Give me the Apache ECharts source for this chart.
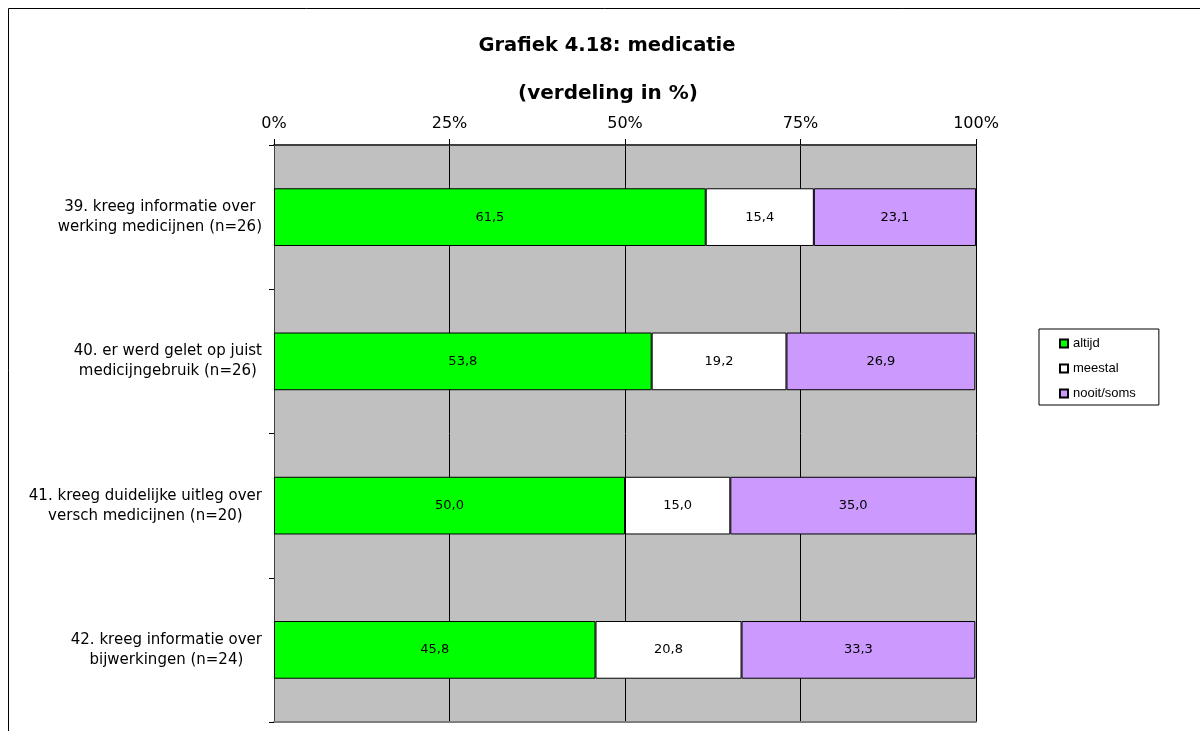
<!DOCTYPE html>
<html>
<head>
<meta charset="utf-8">
<script src="https://cdn.jsdelivr.net/npm/echarts@6/dist/echarts.min.js"></script>
<style>
  html, body { margin: 0; padding: 0; background: #fff; }
  #chart { width: 1200px; height: 731px; }
</style>
</head>
<body>
<div id="chart"></div>
<script>
// Survey items (rows, top to bottom)
const categories = [
  '39. kreeg informatie over\nwerking medicijnen (n=26)',
  '40. er werd gelet op juist\nmedicijngebruik (n=26)',
  '41. kreeg duidelijke uitleg over\nversch medicijnen (n=20)',
  '42. kreeg informatie over\nbijwerkingen (n=24)'
];

// Answer distribution per item, in percent
const altijd = [61.5, 53.8, 50.0, 45.8];
const meestal = [15.4, 19.2, 15.0, 20.8];
const nooitSoms = [23.1, 26.9, 35.0, 33.3];

const seriesNames = ['altijd', 'meestal', 'nooit/soms'];
const seriesColors = ['#00ff00', '#ffffff', '#cc99ff'];
const seriesData = [altijd, meestal, nooitSoms];

const fontMain = 'Verdana, "DejaVu Sans", sans-serif';

const chart = echarts.init(document.getElementById('chart'));

const series = seriesData.map((data, i) => ({
  name: seriesNames[i],
  type: 'bar',
  stack: 'total',
  barWidth: '40%',
  data: data,
  itemStyle: { color: seriesColors[i], borderColor: '#000', borderWidth: 1 },
  label: {
    show: true,
    position: 'inside',
    color: '#000',
    fontFamily: fontMain,
    fontSize: 13,
    formatter: p => p.value.toFixed(1).replace('.', ',')
  }
}));

chart.setOption({
  animation: false,
  backgroundColor: '#fff',
  title: [
    {
      text: 'Grafiek 4.18: medicatie',
      left: 602, top: 31, textAlign: 'center',
      textStyle: { fontFamily: fontMain, fontSize: 19.5, fontWeight: 'bold', color: '#000' }
    },
    {
      text: '(verdeling in %)',
      left: 603, top: 79, textAlign: 'center',
      textStyle: { fontFamily: fontMain, fontSize: 20, fontWeight: 'bold', color: '#000' }
    }
  ],
  graphic: [
    {
      type: 'rect',
      shape: { x: 8.5, y: 8.5, width: 1300, height: 900 },
      style: { fill: 'none', stroke: '#000', lineWidth: 1 },
      silent: true,
      z: -1
    }
  ],
  legend: {
    orient: 'vertical',
    left: 1039,
    top: 329,
    padding: [8, 23, 5, 20],
    itemGap: 12,
    itemWidth: 8,
    itemHeight: 8,
    borderColor: '#000',
    borderWidth: 1,
    icon: 'rect',
    textStyle: { fontFamily: '"Liberation Sans", Arial, sans-serif', fontSize: 13, color: '#000' },
    data: seriesNames
  },
  grid: {
    left: 274, right: 224, top: 145, bottom: 9,
    show: true,
    backgroundColor: '#c0c0c0',
    borderWidth: 0
  },
  xAxis: [
    {
      type: 'value',
      position: 'top',
      min: 0, max: 100, interval: 25,
      axisLine: { show: true, lineStyle: { color: '#404040', width: 2 } },
      axisTick: { show: true, inside: false, length: 6, lineStyle: { color: '#000' } },
      axisLabel: {
        formatter: '{value}%',
        fontFamily: fontMain, fontSize: 16, color: '#000', margin: 13
      },
      splitLine: { show: true, lineStyle: { color: '#000', width: 1 } }
    },
    {
      type: 'value',
      position: 'bottom',
      min: 0, max: 100, interval: 25,
      axisLine: { show: true, lineStyle: { color: '#808080', width: 2 } },
      axisTick: { show: false },
      axisLabel: { show: false },
      splitLine: { show: false }
    }
  ],
  yAxis: {
    type: 'category',
    inverse: true,
    data: categories,
    axisLine: { show: true, lineStyle: { color: '#404040', width: 1 } },
    axisTick: { show: true, length: 5, lineStyle: { color: '#000' } },
    axisLabel: {
      align: 'right',
      margin: 12,
      // each line centred inside the right-aligned label block
      formatter: v => v.split('\n').map(line => '{c|' + line + '}').join('\n'),
      rich: {
        c: {
          align: 'center',
          fontFamily: fontMain, fontSize: 15, color: '#000', lineHeight: 20
        }
      }
    }
  },
  series: series
});
</script>
</body>
</html>
